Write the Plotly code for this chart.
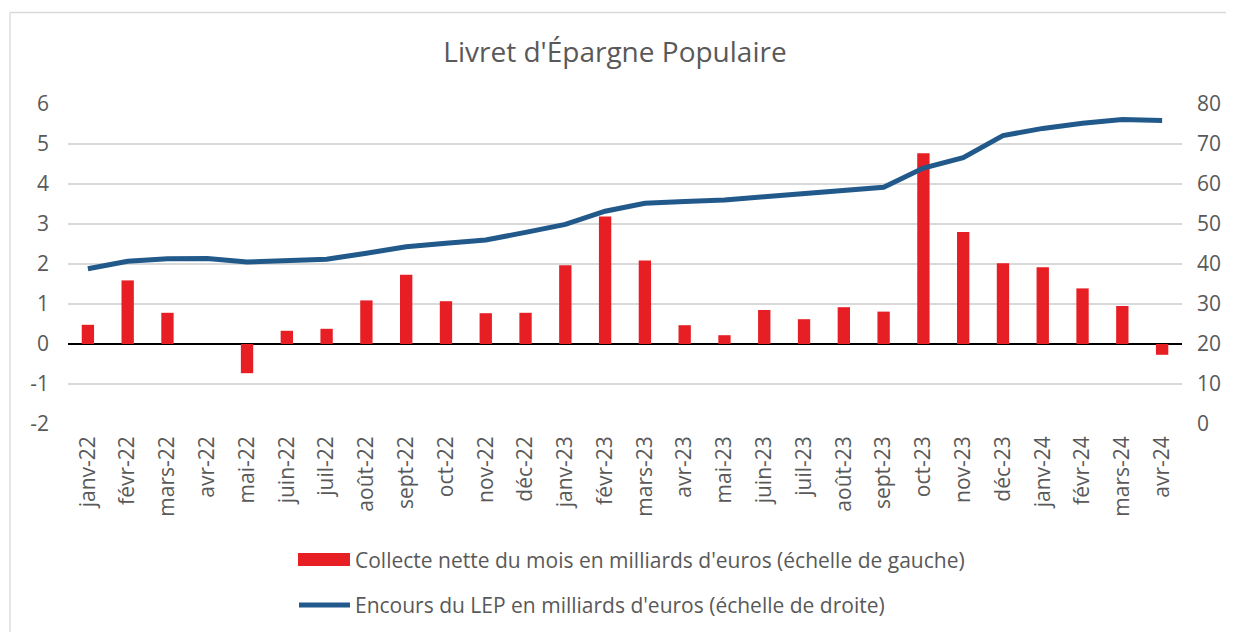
import plotly.graph_objects as go

months = ["janv-22", "févr-22", "mars-22", "avr-22", "mai-22", "juin-22", "juil-22",
          "août-22", "sept-22", "oct-22", "nov-22", "déc-22", "janv-23", "févr-23",
          "mars-23", "avr-23", "mai-23", "juin-23", "juil-23", "août-23", "sept-23",
          "oct-23", "nov-23", "déc-23", "janv-24", "févr-24", "mars-24", "avr-24"]

collecte = [0.48, 1.59, 0.78, 0.0, -0.73, 0.33, 0.38,
            1.09, 1.73, 1.07, 0.77, 0.78, 1.97, 3.19,
            2.09, 0.47, 0.22, 0.85, 0.62, 0.92, 0.81,
            4.77, 2.80, 2.02, 1.92, 1.39, 0.95, -0.27]

encours = [38.8, 40.7, 41.3, 41.4, 40.5, 40.8, 41.2,
           42.7, 44.3, 45.2, 46.0, 47.9, 49.9, 53.2,
           55.2, 55.6, 56.0, 56.8, 57.5, 58.3, 59.2,
           64.0, 66.6, 72.1, 73.9, 75.2, 76.1, 75.9]

title_text = "Livret d'Épargne Populaire"
name_bar = "Collecte nette du mois en milliards d'euros (échelle de gauche)"
name_line = "Encours du LEP en milliards d'euros (échelle de droite)"

left_ticks = [-2, -1, 0, 1, 2, 3, 4, 5, 6]
left_labels = ["-2", "-1", "0", "1", "2", "3", "4", "5", "6"]
right_ticks = [0, 10, 20, 30, 40, 50, 60, 70, 80]
right_labels = ["0", "10", "20", "30", "40", "50", "60", "70", "80"]

RED = "#E81E25"
BLUE = "#22598B"
TXT = "#595959"
FONT = "Open Sans"

# the page places the figure 8px from the window's top-left corner
OFF = 8
W, H = 1234 - OFF, 632 - OFF
L, R, T, B = 68 - OFF, 1182 - OFF, 104 - OFF, 424 - OFF


def px(x):
    return (x - OFF - L) / (R - L)


def py(y):
    return (B - (y - OFF)) / (B - T)


fig = go.Figure()
fig.add_trace(go.Bar(x=months, y=collecte, name=name_bar, marker_color=RED,
                     marker_line_width=0, width=0.31, yaxis="y", showlegend=False))
fig.add_trace(go.Scatter(x=months, y=encours, name=name_line, mode="lines",
                         line=dict(color=BLUE, width=5), yaxis="y2", showlegend=False))

shapes = [
    # chart frame (left and top edges)
    dict(type="line", xref="paper", yref="paper", x0=px(10), x1=px(10),
         y0=py(632), y1=py(12.5), line=dict(color="#D9D9D9", width=1.3), layer="below"),
    dict(type="line", xref="paper", yref="paper", x0=px(10), x1=px(1234),
         y0=py(12.5), y1=py(12.5), line=dict(color="#D9D9D9", width=1.3), layer="below"),
    # legend symbols
    dict(type="rect", xref="paper", yref="paper", x0=px(298), x1=px(350),
         y0=py(566), y1=py(553), line=dict(width=0), fillcolor=RED),
    dict(type="line", xref="paper", yref="paper", x0=px(299), x1=px(350),
         y0=py(605), y1=py(605), line=dict(color=BLUE, width=5)),
]

annotations = [
    dict(text=name_bar, xref="paper", yref="paper", x=px(353), y=py(559.5),
         xanchor="left", yanchor="middle", showarrow=False,
         font=dict(family=FONT, size=21, color=TXT)),
    dict(text=name_line, xref="paper", yref="paper", x=px(353), y=py(605),
         xanchor="left", yanchor="middle", showarrow=False,
         font=dict(family=FONT, size=21, color=TXT)),
]

fig.update_layout(
    width=W, height=H,
    margin=dict(l=L, r=W - R, t=T, b=H - B, pad=0, autoexpand=False),
    paper_bgcolor="white", plot_bgcolor="white",
    title=dict(text=title_text, x=(615 - OFF) / W, xanchor="center",
               y=1 - (52 - OFF) / H, yanchor="middle", yref="container",
               font=dict(family=FONT, size=28, color=TXT)),
    font=dict(family=FONT, color=TXT),
    shapes=shapes,
    annotations=annotations,
    xaxis=dict(type="category", categoryorder="array", categoryarray=months,
               tickangle=-90, showgrid=False, showline=False, ticks="", automargin=False,
               ticklabelstandoff=7, tickfont=dict(family=FONT, size=21, color=TXT),
               range=[-0.5, len(months) - 0.5]),
    yaxis=dict(range=[-2, 6], tickvals=left_ticks, ticktext=left_labels,
               showgrid=True, gridcolor="#D9D9D9", automargin=False,
               gridwidth=1.5, zeroline=True, zerolinecolor="black", zerolinewidth=2,
               showline=False, ticks="", ticklabelstandoff=18,
               tickfont=dict(family=FONT, size=21, color=TXT)),
    yaxis2=dict(range=[0, 80], tickvals=right_ticks, ticktext=right_labels,
                overlaying="y", side="right", automargin=False,
                showgrid=False, zeroline=False, showline=False, ticks="",
                ticklabelstandoff=14, tickfont=dict(family=FONT, size=21, color=TXT)),
)

fig.write_html("out.html")
